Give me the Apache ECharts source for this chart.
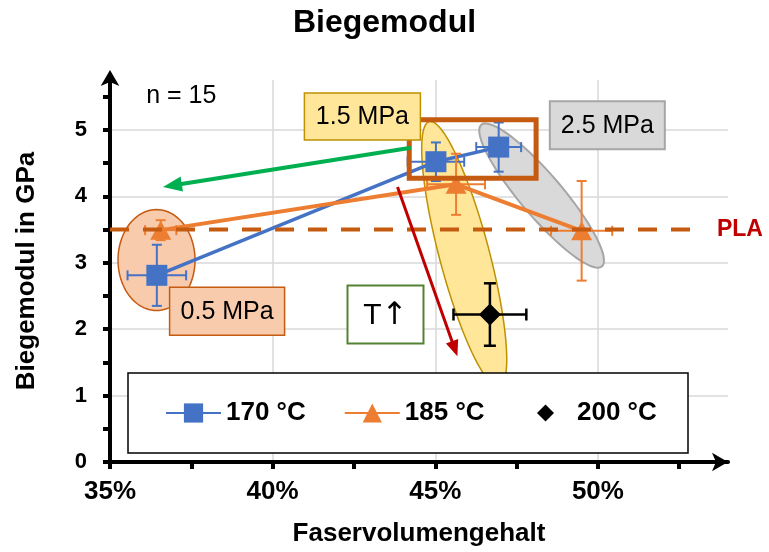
<!DOCTYPE html>
<html><head><meta charset="utf-8">
<script src="https://cdn.jsdelivr.net/npm/echarts@6/dist/echarts.min.js"></script>
<style>html,body{margin:0;padding:0;background:#fff}#c{width:769px;height:552px}</style>
</head><body><div id="c"></div>
<script>
// ---------- data ----------
const xLabelValues = [35, 40, 45, 50];
const xTickValues = [35, 37.5, 40, 42.5, 45, 47.5, 50, 52.5];
const yLabelValues = [0, 1, 2, 3, 4, 5];
const yTickValues = [0, 0.5, 1, 1.5, 2, 2.5, 3, 3.5, 4, 4.5, 5, 5.5];
const seriesNames = ['170 °C', '185 °C', '200 °C'];

const fvg170 = [36.44, 45.02, 46.95];
const mod170 = [2.81, 4.52, 4.74];
const fvgErr170 = [0.90, 0.87, 0.69];
const modErr170 = [0.46, 0.29, 0.37];

const fvg185 = [36.56, 45.64, 49.50];
const mod185 = [3.49, 4.18, 3.48];
const fvgErr185 = [0.48, 0.89, 0.94];
const modErr185 = [0.15, 0.46, 0.75];

const fvg200 = [46.68];
const mod200 = [2.22];
const fvgErr200 = [1.12];
const modErr200 = [0.47];

const plaModulus = 3.5;
const sampleCount = 15;
const pressureLabels = ['0.5 MPa', '1.5 MPa', '2.5 MPa'];

// ---------- annotation geometry (data coords, px sizes) ----------
const FONT = '"Liberation Sans", Arial, Helvetica, sans-serif';
const ellipses = [
  {cx: 36.43, cy: 3.04, a: 38.5, b: 50.5, ang: 0, fill: '#F8CBAD', stroke: '#C55A11', lw: 1.5},
  {cx: 45.89, cy: 3.13, a: 137, b: 25, ang: 75.2, fill: '#FFE699', stroke: '#BF9000', lw: 1.5},
  {cx: 48.27, cy: 4.01, a: 93, b: 21, ang: 49.6, fill: '#D9D9D9', stroke: '#A6A6A6', lw: 2}
];
const boxes = [
  {text: pressureLabels[0], cx: 38.60, cy: 2.27, w: 115, h: 48, fill: '#F8CBAD', stroke: '#C55A11', lw: 1.5},
  {text: pressureLabels[1], cx: 42.76, cy: 5.20, w: 116, h: 47, fill: '#FFE699', stroke: '#BF9000', lw: 1.5},
  {text: pressureLabels[2], cx: 50.29, cy: 5.07, w: 115, h: 48, fill: '#D9D9D9', stroke: '#A6A6A6', lw: 2},
  {text: '{t|T}{a|\u2191}', cx: 43.47, cy: 2.22, w: 76, h: 58, fill: '#FFFFFF', stroke: '#548235', lw: 2, rich: true}
];
const highlightRect = {x1: 44.2, y1: 5.15, x2: 48.1, y2: 4.27};
const arrows = [
  {from: [44.25, 4.73], to: [36.63, 4.14], color: '#00B050', lw: 4, hl: 19, hw: 15},
  {from: [43.84, 4.14], to: [45.68, 1.59], color: '#C00000', lw: 3, hl: 16, hw: 13}
];

function zip(xs, ys, ex, ey) { return xs.map((x, i) => ex ? [x, ys[i], ex[i], ey[i]] : [x, ys[i]]); }

function ellipsePoints(c, e) {
  const th = e.ang * Math.PI / 180, pts = [];
  for (let i = 0; i < 96; i++) {
    const t = i / 96 * Math.PI * 2;
    const ca = e.a * Math.cos(t), sb = e.b * Math.sin(t);
    pts.push([c[0] + ca * Math.cos(th) - sb * Math.sin(th), c[1] + ca * Math.sin(th) + sb * Math.cos(th)]);
  }
  return pts;
}

function renderBg(params, api) {
  return {type: 'group', children: ellipses.map(e => ({
    type: 'polygon', shape: {points: ellipsePoints(api.coord([e.cx, e.cy]), e)},
    style: {fill: e.fill, stroke: e.stroke, lineWidth: e.lw}
  }))};
}

function renderFg(params, api) {
  const ch = [];
  const p1 = api.coord([35, plaModulus]), p2 = api.coord([53.2, plaModulus]);
  ch.push({type: 'line', shape: {x1: p1[0], y1: p1[1], x2: p2[0], y2: p2[1]},
    style: {stroke: '#C55A11', lineWidth: 4, lineDash: [19, 14]}});
  ch.push({type: 'text', style: {text: 'PLA', x: p2[0] + 15, y: p1[1], fill: '#C00000',
    font: 'bold 23px ' + FONT, align: 'left', verticalAlign: 'middle'}});
  const r1 = api.coord([highlightRect.x1, highlightRect.y1]), r2 = api.coord([highlightRect.x2, highlightRect.y2]);
  ch.push({type: 'rect', shape: {x: r1[0], y: r1[1], width: r2[0] - r1[0], height: r2[1] - r1[1]},
    style: {fill: 'none', stroke: '#C55A11', lineWidth: 5}});
  arrows.forEach(a => {
    const s = api.coord(a.from), t = api.coord(a.to);
    const dx = t[0] - s[0], dy = t[1] - s[1], L = Math.hypot(dx, dy);
    const ux = dx / L, uy = dy / L, nx = -uy, ny = ux;
    const bx = t[0] - ux * a.hl, by = t[1] - uy * a.hl;
    ch.push({type: 'line', shape: {x1: s[0], y1: s[1], x2: bx + ux * 2, y2: by + uy * 2},
      style: {stroke: a.color, lineWidth: a.lw}});
    ch.push({type: 'polygon', shape: {points: [[t[0], t[1]], [bx + nx * a.hw / 2, by + ny * a.hw / 2], [bx - nx * a.hw / 2, by - ny * a.hw / 2]]},
      style: {fill: a.color}});
  });
  boxes.forEach(b => {
    const c = api.coord([b.cx, b.cy]);
    ch.push({type: 'rect', shape: {x: c[0] - b.w / 2, y: c[1] - b.h / 2, width: b.w, height: b.h},
      style: {fill: b.fill, stroke: b.stroke, lineWidth: b.lw}});
    const st = {text: b.text, x: c[0], y: c[1] + 1, fill: '#000',
      font: '25px ' + FONT, align: 'center', verticalAlign: 'middle'};
    if (b.rich) st.rich = {
      t: {fontSize: 30, fontFamily: FONT, color: '#000'},
      a: {fontSize: 31, fontFamily: '"DejaVu Sans", sans-serif', color: '#000'}
    };
    ch.push({type: 'text', style: st});
  });
  const n = api.coord([37.19, 5.51]);
  ch.push({type: 'text', style: {text: 'n = ' + sampleCount, x: n[0], y: n[1], fill: '#000',
    font: '25px ' + FONT, align: 'center', verticalAlign: 'middle'}});
  return {type: 'group', children: ch};
}

function makeErr(color, cap, lw) {
  return function (params, api) {
    const x = api.value(0), y = api.value(1), ex = api.value(2), ey = api.value(3);
    const l = api.coord([x - ex, y]), r = api.coord([x + ex, y]);
    const t = api.coord([x, y + ey]), b = api.coord([x, y - ey]);
    const st = {stroke: color, lineWidth: lw};
    const ln = (a1, a2, b1, b2) => ({type: 'line', shape: {x1: a1, y1: a2, x2: b1, y2: b2}, style: st});
    return {type: 'group', children: [
      ln(l[0], l[1], r[0], r[1]), ln(t[0], t[1], b[0], b[1]),
      ln(l[0], l[1] - cap, l[0], l[1] + cap), ln(r[0], r[1] - cap, r[0], r[1] + cap),
      ln(t[0] - cap, t[1], t[0] + cap, t[1]), ln(b[0] - cap, b[1], b[0] + cap, b[1])
    ]};
  };
}

const chart = echarts.init(document.getElementById('c'), null, {renderer: 'canvas'});
const labelStyle = {color: '#000', fontWeight: 'bold', fontFamily: FONT};
const gridLineStyle = {color: '#D9D9D9', width: 1.5};
chart.setOption({
  animation: false,
  textStyle: {fontFamily: FONT},
  title: {text: 'Biegemodul', left: 'center', top: 2,
    textStyle: {fontSize: 32, fontWeight: 'bold', color: '#000', fontFamily: FONT}},
  grid: {left: 110, right: 41, top: 80, bottom: 87, containLabel: false},
  legend: [
    {data: [seriesNames[0], seriesNames[1]], left: 165, top: 400, padding: 0, itemWidth: 55, itemHeight: 24,
      itemGap: 38, selectedMode: false, z: 10, textStyle: Object.assign({fontSize: 26}, labelStyle)},
    {data: [seriesNames[2]], left: 537, top: 400, padding: 0, itemWidth: 17, itemHeight: 17,
      selectedMode: false, z: 10, textStyle: Object.assign({fontSize: 26, padding: [0, 0, 0, 18]}, labelStyle)}
  ],
  graphic: [{type: 'rect', z: 5, shape: {x: 128, y: 373, width: 560, height: 80},
    style: {fill: '#fff', stroke: '#000', lineWidth: 1.5}}],
  xAxis: [{
    type: 'value', min: 35, max: 54, interval: 5,
    name: 'Faservolumengehalt', nameLocation: 'middle', nameGap: 59,
    nameTextStyle: Object.assign({fontSize: 26}, labelStyle),
    axisLine: {show: true, onZero: false, lineStyle: {color: '#000', width: 4},
      symbol: ['none', 'arrow'], symbolSize: [14, 16], symbolOffset: [0, 0]},
    axisTick: {show: true, customValues: xTickValues, length: 7, lineStyle: {color: '#000', width: 4}},
    axisLabel: {customValues: xLabelValues, formatter: v => v + '%', fontSize: 26, margin: 17, color: '#000', fontWeight: 'bold', fontFamily: FONT},
    splitLine: {show: false}
  }, {
    type: 'value', min: 35, max: 54, interval: 5, position: 'bottom', z: 0,
    axisLine: {show: false}, axisTick: {show: false}, axisLabel: {show: false},
    splitLine: {show: true, showMinLine: false, showMaxLine: false, lineStyle: gridLineStyle}
  }],
  yAxis: [{
    type: 'value', min: 0, max: 5.75, interval: 1,
    name: 'Biegemodul in GPa', nameLocation: 'middle', nameGap: 70,
    nameTextStyle: Object.assign({fontSize: 26}, labelStyle),
    axisLine: {show: true, onZero: false, lineStyle: {color: '#000', width: 4},
      symbol: ['none', 'arrow'], symbolSize: [14, 16], symbolOffset: [0, 10]},
    axisTick: {show: true, customValues: yTickValues, length: 7, lineStyle: {color: '#000', width: 4}},
    axisLabel: {customValues: yLabelValues, fontSize: 22, margin: 23, color: '#000', fontWeight: 'bold', fontFamily: FONT},
    splitLine: {show: false}
  }, {
    type: 'value', min: 0, max: 5.75, interval: 1, position: 'left', z: 0,
    axisLine: {show: false}, axisTick: {show: false}, axisLabel: {show: false},
    splitLine: {show: true, showMinLine: false, showMaxLine: false, lineStyle: gridLineStyle}
  }],
  series: [
    {type: 'custom', name: 'ellipses', z: 1, silent: true, renderItem: renderBg, data: [[35, 0]]},
    {type: 'line', name: seriesNames[0], data: zip(fvg170, mod170), z: 3, color: '#4472C4',
      symbol: 'rect', symbolSize: 21, showSymbol: true, lineStyle: {width: 3.5, color: '#4472C4'},
      itemStyle: {color: '#4472C4', opacity: 1}, emphasis: {disabled: true}},
    {type: 'line', name: seriesNames[1], data: zip(fvg185, mod185), z: 3, color: '#ED7D31',
      symbol: 'triangle', symbolSize: [21, 19], showSymbol: true, lineStyle: {width: 4, color: '#ED7D31'},
      itemStyle: {color: '#ED7D31', opacity: 1}, emphasis: {disabled: true}},
    {type: 'scatter', name: seriesNames[2], data: zip(fvg200, mod200), z: 3, color: '#000',
      symbol: 'diamond', symbolSize: 22, itemStyle: {color: '#000', opacity: 1}, emphasis: {disabled: true}},
    {type: 'custom', name: 'err170', z: 4, silent: true, renderItem: makeErr('#4472C4', 5, 2),
      encode: {x: 0, y: 1}, data: zip(fvg170, mod170, fvgErr170, modErr170)},
    {type: 'custom', name: 'err185', z: 4, silent: true, renderItem: makeErr('#ED7D31', 5, 2),
      encode: {x: 0, y: 1}, data: zip(fvg185, mod185, fvgErr185, modErr185)},
    {type: 'custom', name: 'err200', z: 4, silent: true, renderItem: makeErr('#000', 6, 2.5),
      encode: {x: 0, y: 1}, data: zip(fvg200, mod200, fvgErr200, modErr200)},
    {type: 'custom', name: 'annotations', z: 6, silent: true, renderItem: renderFg, data: [[35, 0]]}
  ]
});
</script></body></html>
